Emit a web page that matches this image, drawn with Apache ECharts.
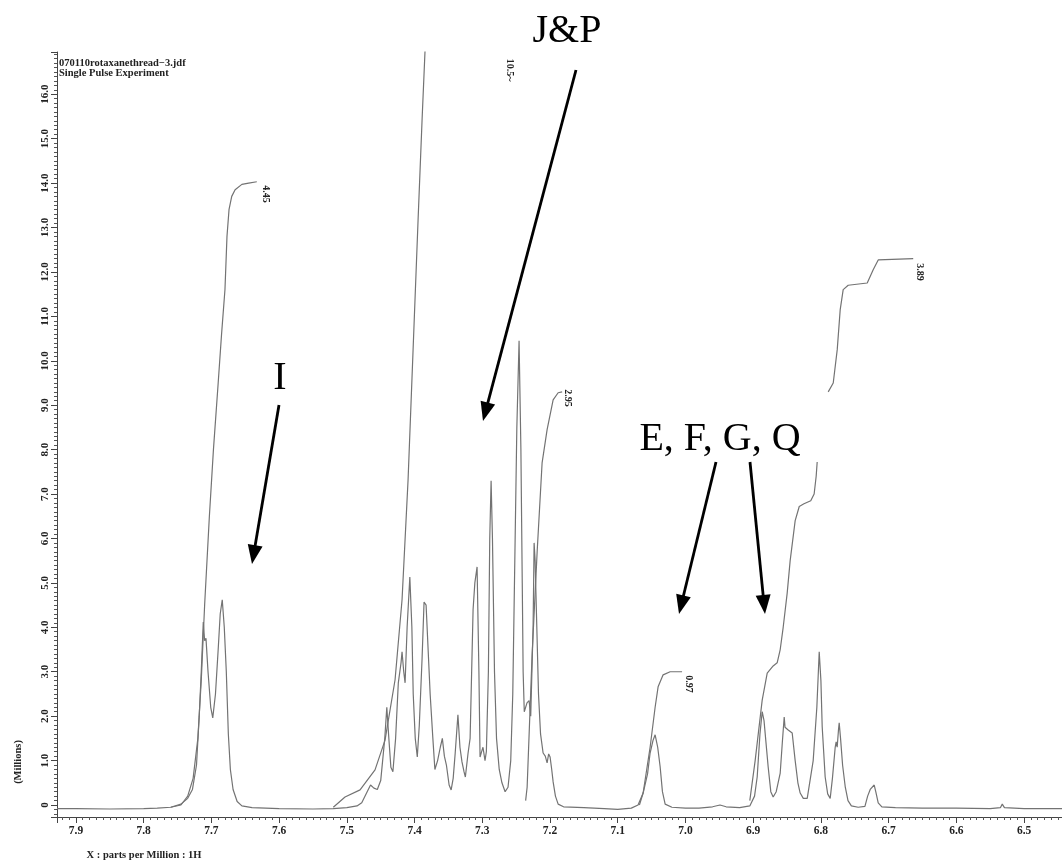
<!DOCTYPE html>
<html><head><meta charset="utf-8">
<script src="https://cdn.jsdelivr.net/npm/echarts@6/dist/echarts.min.js"></script>
<style>html,body{margin:0;padding:0;background:#fff}#c{width:1062px;height:862px}</style>
</head><body><div id="c"></div>
<script>
// ---- data (ppm, intensity in millions) ----
const specPeakI = [[7.928,-0.08],[7.90,-0.08],[7.85,-0.09],[7.80,-0.08],[7.78,-0.07],[7.76,-0.05],[7.745,0.02],[7.735,0.15],[7.728,0.35],[7.722,0.9],[7.718,2.0],[7.715,3.0],[7.712,4.12],[7.710,3.7],[7.708,3.75],[7.705,3.0],[7.701,2.2],[7.698,1.96],[7.694,2.5],[7.690,3.5],[7.687,4.3],[7.684,4.62],[7.681,4.0],[7.678,3.0],[7.675,1.6],[7.672,0.8],[7.668,0.35],[7.662,0.08],[7.655,-0.02],[7.64,-0.06]];
const specPeaksJP = [[7.60,-0.08],[7.55,-0.09],[7.52,-0.08],[7.50,-0.06],[7.485,-0.02],[7.478,0.05],[7.47,0.3],[7.465,0.45],[7.46,0.38],[7.455,0.35],[7.45,0.55],[7.444,1.5],[7.441,2.2],[7.438,1.5],[7.435,0.85],[7.432,0.75],[7.428,1.5],[7.424,2.75],[7.420,3.2],[7.4185,3.45],[7.416,3.0],[7.414,2.75],[7.411,4.0],[7.407,5.13],[7.404,4.0],[7.402,2.5],[7.399,1.5],[7.396,1.08],[7.393,1.8],[7.389,3.27],[7.386,4.57],[7.383,4.5],[7.380,3.5],[7.377,2.5],[7.373,1.5],[7.370,0.8],[7.366,1.0],[7.362,1.3],[7.359,1.5],[7.356,1.1],[7.353,0.9],[7.349,0.45],[7.346,0.34],[7.343,0.6],[7.340,1.17],[7.336,2.03],[7.333,1.3],[7.330,0.97],[7.327,0.75],[7.325,0.63],[7.321,1.17],[7.318,1.5],[7.3136,4.4],[7.311,5.0],[7.3077,5.36],[7.305,3.0],[7.3033,1.08],[7.301,1.2],[7.299,1.3],[7.296,1.0],[7.294,1.2],[7.291,3.0],[7.289,6.0],[7.287,7.3],[7.285,6.0],[7.282,3.0],[7.279,1.5],[7.275,0.8],[7.271,0.5],[7.2663,0.3],[7.262,0.4],[7.258,1.0],[7.255,2.5],[7.252,5.5],[7.249,8.5],[7.2457,10.45],[7.243,8.0],[7.241,5.0],[7.2397,3.0],[7.238,2.1],[7.2368,2.07],[7.234,2.3],[7.2309,2.35],[7.2285,2.0],[7.2264,2.0],[7.225,4.0],[7.2235,5.9],[7.222,5.5],[7.2195,4.0],[7.217,2.5],[7.214,1.6],[7.2102,1.17],[7.207,1.1],[7.2043,0.95],[7.202,1.15],[7.1999,1.08],[7.1975,0.8],[7.1954,0.52],[7.192,0.2],[7.188,0.02]];
const specPeaksEFGQ = [[7.18,-0.04],[7.15,-0.06],[7.12,-0.08],[7.10,-0.1],[7.08,-0.07],[7.07,0.0],[7.0625,0.27],[7.056,0.7],[7.0522,1.17],[7.048,1.45],[7.0448,1.58],[7.041,1.3],[7.0374,0.86],[7.034,0.3],[7.03,0.02],[7.02,-0.05],[7.0,-0.07],[6.98,-0.07],[6.96,-0.04],[6.949,0.0],[6.94,-0.04],[6.92,-0.06],[6.905,-0.02],[6.898,0.2],[6.8941,0.63],[6.890,1.6],[6.8867,2.1],[6.884,1.9],[6.8779,0.86],[6.874,0.3],[6.8705,0.18],[6.866,0.3],[6.8601,0.72],[6.857,1.4],[6.8542,1.98],[6.853,1.75],[6.8483,1.69],[6.8424,1.62],[6.838,1.0],[6.834,0.5],[6.8306,0.27],[6.826,0.15],[6.8202,0.15],[6.8114,1.0],[6.806,2.2],[6.8025,3.45],[6.80,2.8],[6.7981,1.76],[6.7937,0.63],[6.790,0.25],[6.7863,0.15],[6.783,0.6],[6.7789,1.3],[6.7775,1.42],[6.776,1.3],[6.774,1.7],[6.773,1.85],[6.771,1.5],[6.768,0.9],[6.764,0.4],[6.760,0.1],[6.755,-0.02],[6.745,-0.05],[6.735,-0.03],[6.731,0.2],[6.7272,0.35],[6.7213,0.45],[6.719,0.3],[6.7154,0.05],[6.71,-0.04],[6.69,-0.06],[6.65,-0.07],[6.60,-0.07],[6.55,-0.08],[6.535,-0.06],[6.5322,0.02],[6.529,-0.06],[6.50,-0.08],[6.47,-0.08],[6.444,-0.08]];

const integralI = [[7.76,-0.05],[7.745,0.0],[7.735,0.2],[7.727,0.6],[7.72,1.5],[7.715,2.8],[7.71,4.5],[7.703,6.5],[7.697,8.0],[7.69,9.5],[7.685,10.6],[7.68,11.6],[7.677,12.8],[7.674,13.4],[7.67,13.7],[7.665,13.85],[7.655,13.97],[7.645,14.0],[7.633,14.03]];
const integralJP = [[7.52,-0.05],[7.5027,0.18],[7.4805,0.34],[7.4584,0.79],[7.4436,1.46],[7.4288,2.82],[7.4185,4.62],[7.4096,7.32],[7.4022,10.25],[7.3948,13.18],[7.3889,15.43],[7.3845,17.0],[7.38,18.5]];
const integralCDCl = [[7.236,0.1],[7.2338,0.4],[7.2264,3.4],[7.219,5.7],[7.2117,7.7],[7.2043,8.45],[7.1954,9.12],[7.188,9.28],[7.1821,9.3]];
const integralE = [[7.068,0.0],[7.0625,0.27],[7.0522,1.3],[7.0448,2.2],[7.0404,2.66],[7.033,2.93],[7.0226,3.0],[7.005,3.0]];
const integralFGQa = [[6.905,0.1],[6.8971,1.0],[6.8867,2.36],[6.8793,2.97],[6.8705,3.13],[6.8646,3.2],[6.8601,3.5],[6.8557,4.0],[6.8498,4.77],[6.8454,5.5],[6.838,6.4],[6.832,6.72],[6.825,6.78],[6.815,6.85],[6.81,7.0],[6.807,7.4],[6.8055,7.72]];
const integralFGQb = [[6.7892,9.3],[6.7818,9.5],[6.7759,10.25],[6.7715,11.15],[6.7671,11.6],[6.7597,11.7],[6.7316,11.75],[6.7228,12.05],[6.7154,12.27],[6.6637,12.3]];

const integralLabels = ['4.45','10.5~','2.95','0.97','3.89'];
const peakLabels = ['I','J&P','E, F, G, Q'];

const spectrum = [...specPeakI, ...specPeaksJP, ...specPeaksEFGQ];

const chart = echarts.init(document.getElementById('c'), null, {renderer:'canvas'});
const lineCol = '#737373';
const serif = 'Liberation Serif, Times New Roman, serif';
function ser(data){ return {type:'line', data, symbol:'none', showSymbol:false, clip:true, animation:false, lineStyle:{color:lineCol, width:1.2}, emphasis:{disabled:true}}; }

function arrow(x1,y1,x2,y2){
  const dx=x2-x1, dy=y2-y1, L=Math.hypot(dx,dy), ux=dx/L, uy=dy/L;
  const hl=19, hw=7.5; const bx=x2-ux*hl, by=y2-uy*hl;
  return [
    {type:'line', shape:{x1,y1,x2:bx+ux*2,y2:by+uy*2}, style:{stroke:'#000', lineWidth:2.8}},
    {type:'polygon', shape:{points:[[x2,y2],[bx-uy*hw,by+ux*hw],[bx+uy*hw,by-ux*hw]]}, style:{fill:'#000'}}
  ];
}
function smallText(t,x,y,rot){ return {type:'text', x, y, rotation:rot, style:{text:t, font:'bold 10px '+serif, fill:'#222', align:'center', verticalAlign:'middle'}}; }

const graphics = [
  {type:'text', x:59, y:63, style:{text:'070110rotaxanethread\u22123.jdf', font:'bold 10.5px '+serif, fill:'#222', verticalAlign:'middle'}},
  {type:'text', x:59, y:73, style:{text:'Single Pulse Experiment', font:'bold 10.5px '+serif, fill:'#222', verticalAlign:'middle'}},
  {type:'text', x:18, y:762, rotation:Math.PI/2, style:{text:'(Millions)', font:'bold 10.5px '+serif, fill:'#222', align:'center', verticalAlign:'middle'}},
  {type:'text', x:144, y:855, style:{text:'X : parts per Million : 1H', font:'bold 10.5px '+serif, fill:'#222', align:'center', verticalAlign:'middle'}},
  smallText(integralLabels[0],266,194,-Math.PI/2),
  smallText(integralLabels[1],510,70,-Math.PI/2),
  smallText(integralLabels[2],568,398,-Math.PI/2),
  smallText(integralLabels[3],689,684,-Math.PI/2),
  smallText(integralLabels[4],920,272,-Math.PI/2),
  {type:'text', x:280, y:378, style:{text:peakLabels[0], font:'40px '+serif, fill:'#000', align:'center', verticalAlign:'middle'}},
  {type:'text', x:567, y:31, style:{text:peakLabels[1], font:'40px '+serif, fill:'#000', align:'center', verticalAlign:'middle'}},
  {type:'text', x:720, y:439, style:{text:peakLabels[2], font:'40px '+serif, fill:'#000', align:'center', verticalAlign:'middle'}},
  ...arrow(576,70,483,421),
  ...arrow(279,405,252,564),
  ...arrow(716,462,679,614),
  ...arrow(750,462,765,614)
];

chart.setOption({
  animation:false,
  backgroundColor:'#fff',
  grid:{left:57, right:0, top:52, bottom:45},
  xAxis:{type:'value', min:6.444, max:7.928, inverse:true, splitNumber:14,
    axisLine:{show:true, onZero:false, lineStyle:{color:'#444', width:1}},
    axisTick:{show:true, length:6, lineStyle:{color:'#444'}},
    minorTick:{show:true, splitNumber:10, length:3, lineStyle:{color:'#555'}},
    splitLine:{show:false}, minorSplitLine:{show:false},
    axisLabel:{showMinLabel:false, showMaxLabel:false, margin:8, formatter:v=>v.toFixed(1), fontFamily:serif, fontWeight:'bold', fontSize:11.5, color:'#222'}},
  yAxis:{type:'value', min:-0.27, max:16.95, splitNumber:17,
    axisLine:{show:true, onZero:false, lineStyle:{color:'#444', width:1}},
    axisTick:{show:true, length:6, lineStyle:{color:'#444'}},
    minorTick:{show:true, splitNumber:10, length:3, lineStyle:{color:'#555'}},
    splitLine:{show:false}, minorSplitLine:{show:false},
    axisLabel:{showMinLabel:false, showMaxLabel:false, rotate:90, margin:6, formatter:v=>(v===0?'0':v.toFixed(1)), fontFamily:serif, fontWeight:'bold', fontSize:11, color:'#222'}},
  series:[ser(spectrum), ser(integralI), ser(integralJP), ser(integralCDCl), ser(integralE), ser(integralFGQa), ser(integralFGQb)],
  graphic:graphics
});
</script></body></html>
